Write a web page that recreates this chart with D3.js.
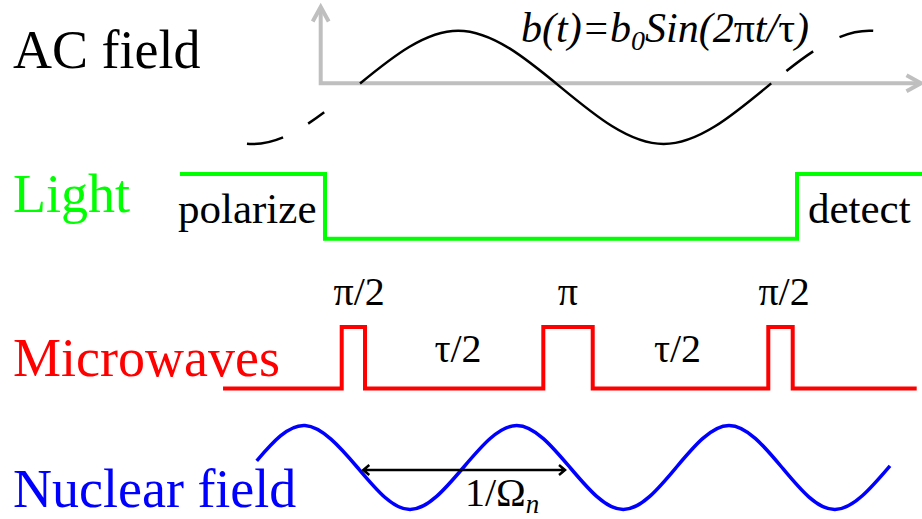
<!DOCTYPE html>
<html>
<head>
<meta charset="utf-8">
<script src="https://cdn.jsdelivr.net/npm/d3@7/dist/d3.min.js"></script>
<style>
  html, body { margin: 0; padding: 0; background: #fff; }
  svg { display: block; }
</style>
</head>
<body>
<svg id="chart" width="922" height="519"></svg>
<script>
// ---- Sequence data (time in units of the AC period tau) ----
const rowLabels = ["AC field", "Light", "Microwaves", "Nuclear field"];
const rowColors = ["#000000", "#00ff00", "#ff0000", "#0000ff"];

// AC field b(t)/b0 at quarter-period key points
const acT = [-0.5, -0.25, 0, 0.25, 0.5, 0.75, 1, 1.25, 1.5];
const acB = [0, -1, 0, 1, 0, -1, 0, 1, 0];
// solid part of the AC curve, and the dashed continuation pieces
const acSolid = [0.011, 1.011];
const acDashes = [[-0.264, -0.176], [-0.115, -0.076], [1.048, 1.113], [1.177, 1.259]];

// Light: 1 = on, 0 = off (step after each time)
const lightT = [-0.427, -0.074, 1.0745, 1.3786];
const lightOn = [1, 0, 1, 1];
const lightNotes = ["polarize", "detect"];

// Microwaves: 1 = pulse on
const mwT = [-0.322, -0.0333, 0.0234, 0.4572, 0.5774, 1.0046, 1.064, 1.3657];
const mwLevel = [0, 1, 0, 1, 0, 1, 0, 0];
const pulseLabels = ["π/2", "π", "π/2"];
const pulseLabelT = [0.009, 0.517, 1.043];
const delayLabels = ["τ/2", "τ/2"];
const delayLabelT = [0.2496, 0.7837];

// Nuclear field (normalised) at its extrema and zero crossings
const nucT = [-0.2401, -0.1226, 0.0051, 0.1328, 0.2627, 0.3925, 0.5222, 0.6518, 0.7804, 0.909, 1.038, 1.1669, 1.3007];
const nucV = [0.16, 1, 0, -1, 0, 1, 0, -1, 0, 1, 0, -1, 0.04];
const nucPeriodSpan = [0.0192, 0.51];
const nucArrowLevel = -0.06;

const serif = "'Liberation Serif', 'Times New Roman', Times, serif";

// ---- Scales ----
const svg = d3.select("#chart").attr("font-family", serif);
const x = d3.scaleLinear().domain([0, 1]).range([355.4, 766.4]);
const acY = d3.scaleLinear().domain([-1, 1]).range([144, 30.7]);
const lightY = d3.scaleLinear().domain([0, 1]).range([238.7, 174]);
const mwY = d3.scaleLinear().domain([0, 1]).range([388.5, 327]);
const nucY = d3.scaleLinear().domain([-1, 1]).range([509.5, 425.5]);

// ---- Row titles ----
const titleBaselines = [68, 212, 376, 507];
svg.selectAll("text.row")
  .data(rowLabels)
  .join("text")
  .attr("class", "row")
  .attr("x", 13)
  .attr("y", (d, i) => titleBaselines[i])
  .attr("font-family", serif)
  .attr("font-size", 54)
  .attr("fill", (d, i) => rowColors[i])
  .text(d => d);

// ---- AC field: grey axes with open arrowheads ----
const axisX = 320.7, axisY = 83.3, axisTop = 7, axisRight = 921;
const grey = "#bfbfbf";
svg.append("path")
  .attr("d", `M${axisX},${axisTop + 2}L${axisX},${axisY}L${axisRight - 2},${axisY}`)
  .attr("fill", "none").attr("stroke", grey).attr("stroke-width", 4)
  .attr("stroke-linejoin", "miter");
svg.append("path")
  .attr("d", `M${axisX - 8},${axisTop + 14.5}L${axisX},${axisTop}L${axisX + 8},${axisTop + 14.5}` +
             `M${axisRight - 14.5},${axisY - 8}L${axisRight},${axisY}L${axisRight - 14.5},${axisY + 8}`)
  .attr("fill", "none").attr("stroke", grey).attr("stroke-width", 4)
  .attr("stroke-linejoin", "miter");

// ---- AC field curve ----
const acPts = acT.map((t, i) => [t, acB[i]]);
const acLine = d3.line().x(d => x(d[0])).y(d => acY(d[1])).curve(d3.curveNatural);
const acPath = svg.append("path")
  .attr("d", acLine(acPts))
  .attr("fill", "none").attr("stroke", "#000").attr("stroke-width", 2.5);

// turn the visible spans (in time units) into a dash pattern along the path
const node = acPath.node();
const total = node.getTotalLength();
function lengthAtX(px) {
  let lo = 0, hi = total;
  for (let k = 0; k < 50; k++) {
    const mid = (lo + hi) / 2;
    if (node.getPointAtLength(mid).x < px) lo = mid; else hi = mid;
  }
  return (lo + hi) / 2;
}
const spans = [acDashes[0], acDashes[1], acSolid, acDashes[2], acDashes[3]];
const dash = [0];           // start with an empty dash so the pattern opens on a gap
let cursor = 0;
spans.forEach(([a, b]) => {
  const la = lengthAtX(x(a)), lb = lengthAtX(x(b));
  dash.push(la - cursor, lb - la);
  cursor = lb;
});
dash.push(total - cursor + 10, 0);
acPath.attr("stroke-dasharray", dash.join(" "));

// formula
const formula = svg.append("text")
  .attr("x", 521).attr("y", 42)
  .attr("font-family", serif)
  .attr("font-size", 42).attr("font-style", "italic").attr("fill", "#000");
formula.append("tspan").text("b(t)=b");
formula.append("tspan").attr("font-size", 28).attr("dy", 8).text("0");
formula.append("tspan").attr("dy", -8).text("Sin(2");
formula.append("tspan").attr("font-style", "normal").text("π");
formula.append("tspan").text("t/");
formula.append("tspan").attr("font-style", "normal").text("τ");
formula.append("tspan").text(")");

// ---- Light ----
const lightLine = d3.line().x((d, i) => x(lightT[i])).y(d => lightY(d)).curve(d3.curveStepAfter);
svg.append("path")
  .attr("d", lightLine(lightOn))
  .attr("fill", "none").attr("stroke", "#00ff00").attr("stroke-width", 4)
  .attr("stroke-linejoin", "miter");
svg.selectAll("text.note")
  .data(lightNotes)
  .join("text")
  .attr("class", "note")
  .attr("x", (d, i) => i === 0 ? 178 : 808)
  .attr("y", 223)
  .attr("font-family", serif)
  .attr("font-size", 43)
  .attr("fill", "#000")
  .text(d => d);

// ---- Microwaves ----
const mwLine = d3.line().x((d, i) => x(mwT[i])).y(d => mwY(d)).curve(d3.curveStepAfter);
svg.append("path")
  .attr("d", mwLine(mwLevel))
  .attr("fill", "none").attr("stroke", "#ff0000").attr("stroke-width", 4)
  .attr("stroke-linejoin", "miter");
svg.selectAll("text.pulse")
  .data(pulseLabels)
  .join("text")
  .attr("class", "pulse")
  .attr("x", (d, i) => x(pulseLabelT[i]))
  .attr("y", 305)
  .attr("text-anchor", "middle")
  .attr("font-family", serif)
  .attr("font-size", 40)
  .attr("fill", "#000")
  .text(d => d);
svg.selectAll("text.delay")
  .data(delayLabels)
  .join("text")
  .attr("class", "delay")
  .attr("x", (d, i) => x(delayLabelT[i]))
  .attr("y", 361.7)
  .attr("text-anchor", "middle")
  .attr("font-family", serif)
  .attr("font-size", 40)
  .attr("fill", "#000")
  .text(d => d);

// ---- Nuclear field ----
const nucLine = d3.line().x((d, i) => x(nucT[i])).y(d => nucY(d)).curve(d3.curveNatural);
svg.append("path")
  .attr("d", nucLine(nucV))
  .attr("fill", "none").attr("stroke", "#0000ff").attr("stroke-width", 3.5);

// period arrow
const ay = nucY(nucArrowLevel);
const ax0 = x(nucPeriodSpan[0]), ax1 = x(nucPeriodSpan[1]);
svg.append("path")
  .attr("d", `M${ax0},${ay}L${ax1},${ay}` +
             `M${ax0 + 6},${ay - 5}L${ax0},${ay}L${ax0 + 6},${ay + 5}` +
             `M${ax1 - 6},${ay - 5}L${ax1},${ay}L${ax1 - 6},${ay + 5}`)
  .attr("fill", "none").attr("stroke", "#000").attr("stroke-width", 2.5);
const per = svg.append("text")
  .attr("x", x(0.2667)).attr("y", 506)
  .attr("font-family", serif)
  .attr("font-size", 40).attr("fill", "#000");
per.append("tspan").text("1/Ω");
per.append("tspan").attr("font-size", 27).attr("font-style", "italic").attr("dy", 7).text("n");
</script>
</body>
</html>
